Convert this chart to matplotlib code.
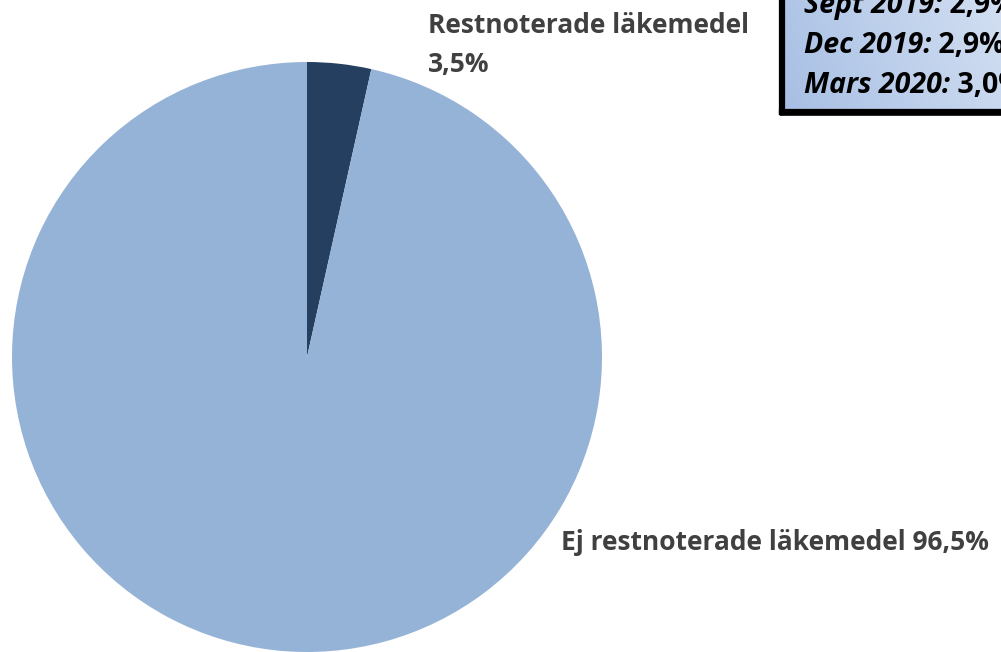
import matplotlib.pyplot as plt
import numpy as np
from matplotlib.patches import Rectangle
from matplotlib.colors import LinearSegmentedColormap

plt.rcParams['font.family'] = ['Open Sans', 'DejaVu Sans']

# data
labels = ['Restnoterade läkemedel', 'Ej restnoterade läkemedel']
shares = [3.5, 96.5]
colors = ['#243F60', '#95B3D7']
box_dates = ['Sept 2019:', 'Dec 2019:', 'Mars 2020:']
box_values = ['2,9%', '2,9%', '3,0%']


def pct(v):
    return str(v).replace('.', ',') + '%'


W, H = 1001, 652
fig = plt.figure(figsize=(W / 100, H / 100), dpi=100)

# pie, centred at (307, 357) px with radius 295 px
cx, cy, r = 307, 357, 295
ax = fig.add_axes([(cx - r) / W, (H - cy - r) / H, 2 * r / W, 2 * r / H])
ax.pie(shares, colors=colors, startangle=90, counterclock=False,
       radius=1, wedgeprops=dict(linewidth=0))
ax.set_xlim(-1, 1)
ax.set_ylim(-1, 1)
ax.set_aspect('auto')
ax.axis('off')

lab_col = '#404040'
fs = 19
fig.text(428 / W, 1 - 33 / H, labels[0], fontsize=fs, fontweight='bold',
         color=lab_col, ha='left', va='baseline')
fig.text(428 / W, 1 - 72 / H, pct(shares[0]), fontsize=fs, fontweight='bold',
         color=lab_col, ha='left', va='baseline')
fig.text(561 / W, 1 - 550 / H, labels[1] + ' ' + pct(shares[1]), fontsize=fs,
         fontweight='bold', color=lab_col, ha='left', va='baseline')

# info box with gradient, partly outside the figure
bx0, by0 = 782, 112  # left, bottom in px (top-down y)
bw, bh = W - bx0 + 40, by0 + 40
shadow = Rectangle(((bx0 - 2) / W, 1 - (by0 + 4) / H), bw / W, bh / H,
                   transform=fig.transFigure, facecolor='#333333',
                   edgecolor='none', zorder=1)
fig.patches.append(shadow)
bax = fig.add_axes([bx0 / W, 1 - by0 / H, bw / W, bh / H], zorder=2)
grad = np.linspace(0, 1, 256).reshape(1, -1) + np.linspace(0.3, 0, 64).reshape(-1, 1)
cmap = LinearSegmentedColormap.from_list('g', ['#A7BFE4', '#DCE6F5'])
bax.imshow(grad, aspect='auto', cmap=cmap, extent=[0, 1, 0, 1])
bax.set_xticks([])
bax.set_yticks([])
for s in bax.spines.values():
    s.set_linewidth(4.5)
    s.set_color('black')

bfs = 20.5
ys = [13, 53, 93]
for d, v, y in zip(box_dates, box_values, ys):
    t = fig.text(804 / W, 1 - y / H, d, fontsize=bfs, fontweight='bold',
                 fontstyle='italic', color='black', ha='left', va='baseline',
                 zorder=5)
    bax.annotate(' ' + v, xy=(1, 0), xycoords=t, fontsize=bfs, fontweight='bold',
                 color='black', ha='left', va='bottom', annotation_clip=False)

fig.savefig('out.png', dpi=100)
